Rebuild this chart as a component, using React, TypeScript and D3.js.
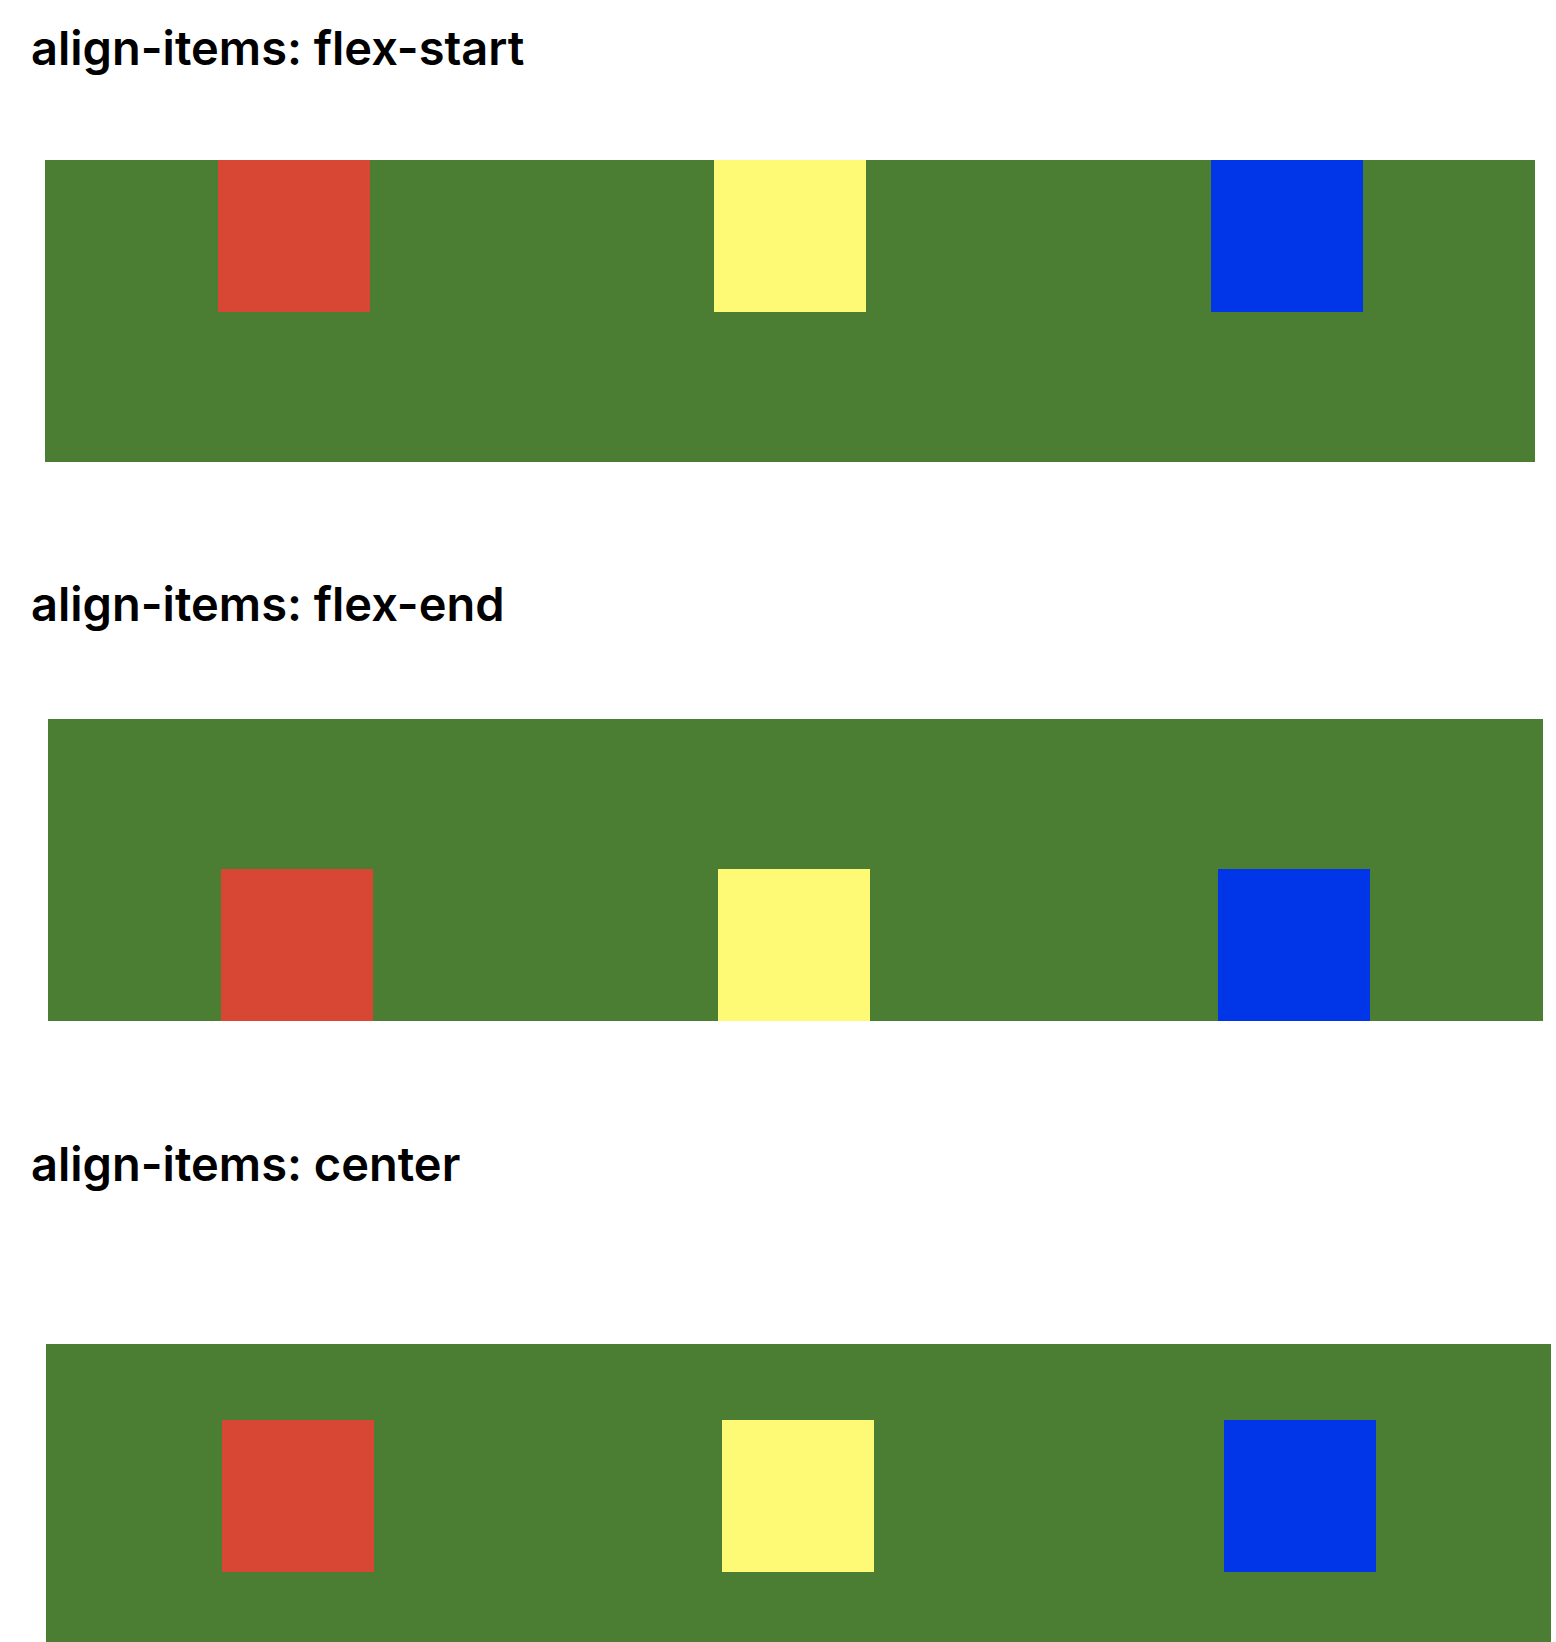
import * as React from 'react';
import { useEffect, useRef } from 'react';
import * as d3 from 'd3';

// Data
const titles = ['align-items: flex-start', 'align-items: flex-end', 'align-items: center'];
const alignModes = ['start', 'end', 'center'];
const itemColors = ['#d84733', '#fffa75', '#0036e8'];

// Layout per panel
const panelBoxes = [
  { x: 45, y: 160, w: 1490, h: 302, titleY: 65, itemX: [218, 714, 1211] },
  { x: 48, y: 719, w: 1495, h: 302, titleY: 621, itemX: [221, 718, 1218] },
  { x: 46, y: 1344, w: 1505, h: 302, titleY: 1181, itemX: [222, 722, 1224] },
];
const itemSize = 152;

const App: React.FC = () => {
  const svgRef = useRef<SVGSVGElement>(null);

  useEffect(() => {
    const svg = d3.select(svgRef.current);
    svg.selectAll('*').remove();

    panelBoxes.forEach((p, i) => {
      svg.append('text')
        .attr('x', 31)
        .attr('y', p.titleY)
        .attr('font-family', 'Inter, "Noto Sans", sans-serif')
        .attr('font-weight', 600)
        .attr('font-size', 47)
        .attr('fill', '#000')
        .text(titles[i]);

      svg.append('rect')
        .attr('x', p.x).attr('y', p.y)
        .attr('width', p.w).attr('height', p.h)
        .attr('fill', '#4b7d32');

      const mode = alignModes[i];
      const yPos = mode === 'start' ? p.y : mode === 'end' ? p.y + p.h - itemSize : p.y + 76;

      svg.append('g').selectAll('rect')
        .data(itemColors)
        .enter().append('rect')
        .attr('x', (_, j) => p.itemX[j])
        .attr('y', yPos)
        .attr('width', itemSize)
        .attr('height', itemSize)
        .attr('fill', d => d);
    });
  }, []);

  return (
    <svg ref={svgRef} width={1556} height={1642}
      style={{ position: 'absolute', left: 0, top: 0, background: '#fff' }}></svg>
  );
};

export default App;
